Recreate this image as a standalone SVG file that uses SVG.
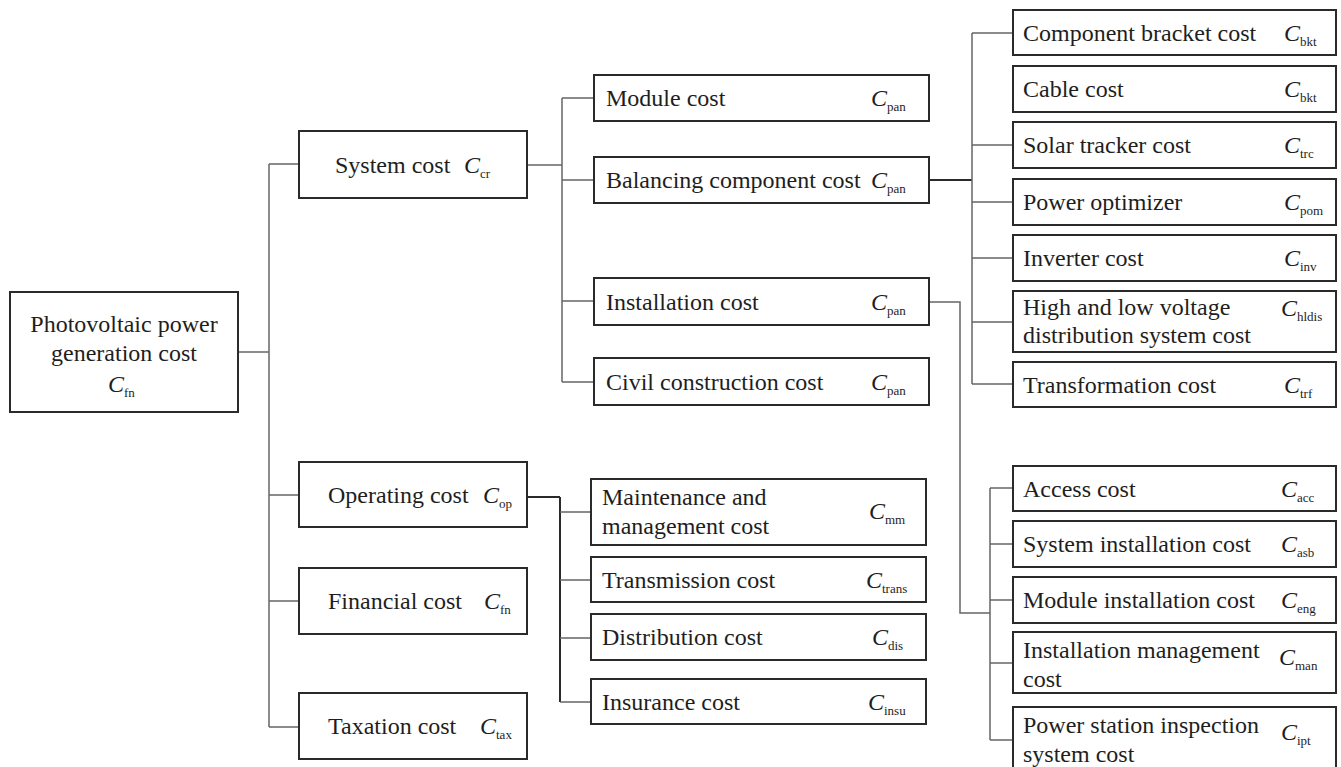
<svg xmlns="http://www.w3.org/2000/svg" width="1341" height="767" viewBox="0 0 1341 767">
<style>
.b{fill:#fff;stroke:#2a2a2a;stroke-width:2}
.t{font-family:"Liberation Serif","Times New Roman",serif;font-size:24px;fill:#1e1e1e}
.m{text-anchor:middle}
.c{font-family:"Liberation Serif","Times New Roman",serif;font-size:24px;font-style:italic;fill:#1e1e1e}
.s{font-family:"Liberation Serif","Times New Roman",serif;font-size:13px;fill:#1e1e1e}
.w{fill:none;stroke:#666;stroke-width:1.5}
.d{fill:none;stroke:#2a2a2a;stroke-width:2}
</style>
<rect width="1341" height="767" fill="#fff"/>
<g id="connectors">
<path class="w" d="M238 352H269M269 164V727M269 164H299M269 495H299M269 601H299M269 727H299"/>
<path class="w" d="M527 165H562M562 98V382M562 98H594M562 180H594M562 301H594M562 382H594"/>
<path class="d" d="M929 180H972"/>
<path class="w" d="M972 33V384M972 33H1013M972 145H1013M972 202H1013M972 258H1013M972 322H1013M972 384H1013"/>
<path class="d" d="M527 497H560M560 497V702"/>
<path class="w" d="M560 512H591M560 580H591M560 638H591M560 702H591"/>
<path class="w" d="M929 302H960V613H990M990 488V740M990 488H1013M990 544H1013M990 600H1013M990 663H1013M990 740H1013"/>
</g>
<g id="root">
<rect class="b" x="10" y="292" width="228" height="120"/>
<text class="t m" x="124" y="332">Photovoltaic power</text>
<text class="t m" x="124" y="361">generation cost</text>
<text class="c" x="108" y="392">C</text><text class="s" x="124" y="397">fn</text>
</g>
<g id="system">
<rect class="b" x="299" y="131" width="228" height="67"/>
<text class="t" x="335" y="173">System cost</text>
<text class="c" x="464" y="173">C</text><text class="s" x="480" y="178">cr</text>
</g>
<g id="operating">
<rect class="b" x="299" y="462" width="228" height="65"/>
<text class="t" x="328" y="503">Operating cost</text>
<text class="c" x="483" y="503">C</text><text class="s" x="499" y="508">op</text>
</g>
<g id="financial">
<rect class="b" x="299" y="568" width="228" height="66"/>
<text class="t" x="328" y="609">Financial cost</text>
<text class="c" x="484" y="609">C</text><text class="s" x="500" y="614">fn</text>
</g>
<g id="taxation">
<rect class="b" x="299" y="693" width="228" height="66"/>
<text class="t" x="328" y="734">Taxation cost</text>
<text class="c" x="480" y="734">C</text><text class="s" x="496" y="739">tax</text>
</g>
<g id="module">
<rect class="b" x="594" y="75" width="335" height="46"/>
<text class="t" x="606" y="106">Module cost</text>
<text class="c" x="871" y="106">C</text><text class="s" x="887" y="111">pan</text>
</g>
<g id="balancing">
<rect class="b" x="594" y="157" width="335" height="46"/>
<text class="t" x="606" y="188">Balancing component cost</text>
<text class="c" x="871" y="188">C</text><text class="s" x="887" y="193">pan</text>
</g>
<g id="installation">
<rect class="b" x="594" y="278" width="335" height="47"/>
<text class="t" x="606" y="310">Installation cost</text>
<text class="c" x="871" y="310">C</text><text class="s" x="887" y="315">pan</text>
</g>
<g id="civil">
<rect class="b" x="594" y="358" width="335" height="47"/>
<text class="t" x="606" y="390">Civil construction cost</text>
<text class="c" x="871" y="390">C</text><text class="s" x="887" y="395">pan</text>
</g>
<g id="bracket">
<rect class="b" x="1013" y="10" width="323" height="45"/>
<text class="t" x="1023" y="41">Component bracket cost</text>
<text class="c" x="1284" y="41">C</text><text class="s" x="1300" y="46">bkt</text>
</g>
<g id="cable">
<rect class="b" x="1013" y="66" width="323" height="46"/>
<text class="t" x="1023" y="97">Cable cost</text>
<text class="c" x="1284" y="97">C</text><text class="s" x="1300" y="102">bkt</text>
</g>
<g id="tracker">
<rect class="b" x="1013" y="122" width="323" height="46"/>
<text class="t" x="1023" y="153">Solar tracker cost</text>
<text class="c" x="1284" y="153">C</text><text class="s" x="1300" y="158">trc</text>
</g>
<g id="optimizer">
<rect class="b" x="1013" y="179" width="323" height="46"/>
<text class="t" x="1023" y="210">Power optimizer</text>
<text class="c" x="1284" y="210">C</text><text class="s" x="1300" y="215">pom</text>
</g>
<g id="inverter">
<rect class="b" x="1013" y="235" width="323" height="46"/>
<text class="t" x="1023" y="266">Inverter cost</text>
<text class="c" x="1284" y="266">C</text><text class="s" x="1300" y="271">inv</text>
</g>
<g id="hldis">
<rect class="b" x="1013" y="291" width="323" height="61"/>
<text class="t" x="1023" y="315">High and low voltage</text>
<text class="t" x="1023" y="343">distribution system cost</text>
<text class="c" x="1281" y="316">C</text><text class="s" x="1297" y="321">hldis</text>
</g>
<g id="transformation">
<rect class="b" x="1013" y="362" width="323" height="45"/>
<text class="t" x="1023" y="393">Transformation cost</text>
<text class="c" x="1284" y="393">C</text><text class="s" x="1300" y="398">trf</text>
</g>
<g id="maintenance">
<rect class="b" x="591" y="479" width="335" height="66"/>
<text class="t" x="602" y="505">Maintenance and</text>
<text class="t" x="602" y="534">management cost</text>
<text class="c" x="869" y="519">C</text><text class="s" x="885" y="524">mm</text>
</g>
<g id="transmission">
<rect class="b" x="591" y="557" width="335" height="45"/>
<text class="t" x="602" y="588">Transmission cost</text>
<text class="c" x="866" y="588">C</text><text class="s" x="882" y="593">trans</text>
</g>
<g id="distribution">
<rect class="b" x="591" y="614" width="335" height="46"/>
<text class="t" x="602" y="645">Distribution cost</text>
<text class="c" x="872" y="645">C</text><text class="s" x="888" y="650">dis</text>
</g>
<g id="insurance">
<rect class="b" x="591" y="679" width="335" height="45"/>
<text class="t" x="602" y="710">Insurance cost</text>
<text class="c" x="868" y="710">C</text><text class="s" x="884" y="715">insu</text>
</g>
<g id="access">
<rect class="b" x="1013" y="466" width="323" height="45"/>
<text class="t" x="1023" y="497">Access cost</text>
<text class="c" x="1281" y="497">C</text><text class="s" x="1297" y="502">acc</text>
</g>
<g id="sysinstall">
<rect class="b" x="1013" y="521" width="323" height="46"/>
<text class="t" x="1023" y="552">System installation cost</text>
<text class="c" x="1281" y="552">C</text><text class="s" x="1297" y="557">asb</text>
</g>
<g id="modinstall">
<rect class="b" x="1013" y="577" width="323" height="46"/>
<text class="t" x="1023" y="608">Module installation cost</text>
<text class="c" x="1281" y="608">C</text><text class="s" x="1297" y="613">eng</text>
</g>
<g id="instmgmt">
<rect class="b" x="1013" y="632" width="323" height="61"/>
<text class="t" x="1023" y="658">Installation management</text>
<text class="t" x="1023" y="687">cost</text>
<text class="c" x="1279" y="665">C</text><text class="s" x="1295" y="670">man</text>
</g>
<g id="inspection">
<rect class="b" x="1013" y="707" width="323" height="75"/>
<text class="t" x="1023" y="733">Power station inspection</text>
<text class="t" x="1023" y="762">system cost</text>
<text class="c" x="1281" y="740">C</text><text class="s" x="1297" y="745">ipt</text>
</g>
</svg>
